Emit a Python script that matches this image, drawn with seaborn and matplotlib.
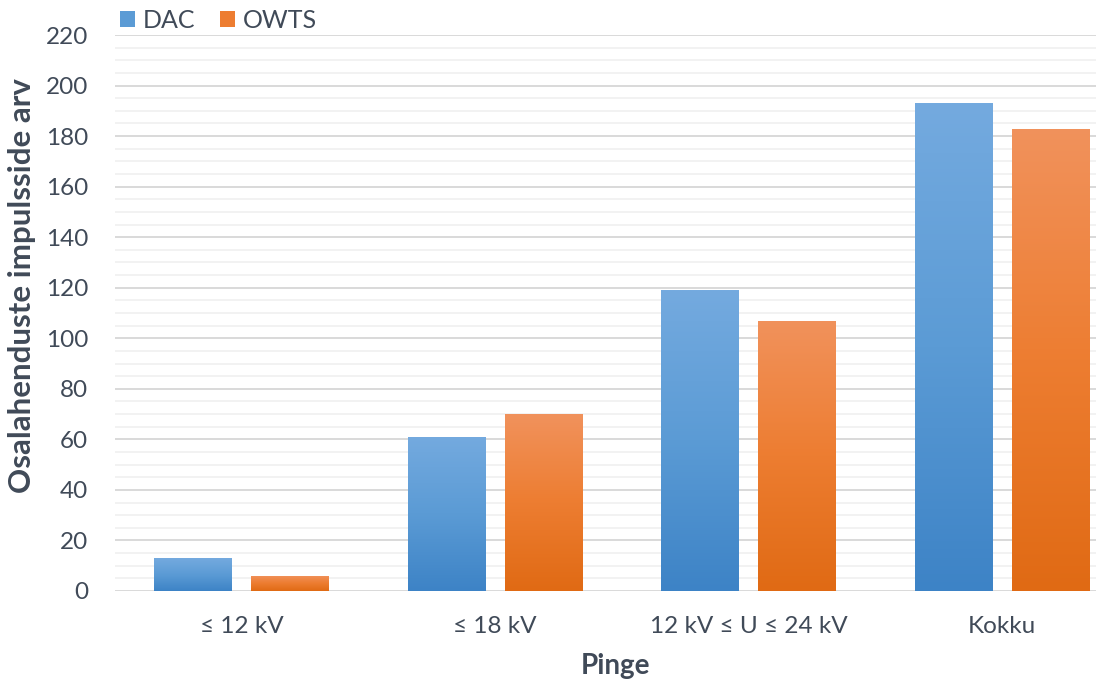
import numpy as np
import pandas as pd
import matplotlib
matplotlib.use("Agg")
import matplotlib.pyplot as plt
import seaborn as sns
from matplotlib.colors import LinearSegmentedColormap
from matplotlib.patches import Patch
from matplotlib.ticker import MultipleLocator

# Data
categories = ["≤ 12 kV", "≤ 18 kV", "12 kV ≤ U ≤ 24 kV", "Kokku"]
series = ["DAC", "OWTS"]
dac = [13, 61, 119, 193]
owts = [6, 70, 107, 183]

df = pd.DataFrame({
    "Pinge": categories * 2,
    "arv": dac + owts,
    "Seade": [series[0]] * len(dac) + [series[1]] * len(owts),
})

base_colors = {"DAC": "#5b9bd5", "OWTS": "#ed7d31"}
gradients = {
    "DAC": ["#3d83c6", "#5b9bd5", "#74aadf"],
    "OWTS": ["#e06a14", "#ed7d31", "#f1925c"],
}
text_color = "#404a58"

sns.set_theme(style="white")
plt.rcParams["font.family"] = ["Lato", "DejaVu Sans"]

fig = plt.figure(figsize=(10.96, 6.81), dpi=100)
ax = fig.add_axes([0.1047, 0.1322, 0.925, 0.8164])

sns.barplot(data=df, x="Pinge", y="arv", hue="Seade", hue_order=series,
            palette=base_colors, width=0.765, gap=0.2, ax=ax, legend=False,
            saturation=1, errorbar=None)

# Vertical gradient fill for every bar, clipped to the bar shape
grad = np.linspace(0, 1, 256).reshape(-1, 1)
for name, container in zip(series, ax.containers):
    cmap = LinearSegmentedColormap.from_list(name, gradients[name])
    for bar in container:
        x0, y0 = bar.get_x(), bar.get_y()
        w, h = bar.get_width(), bar.get_height()
        im = ax.imshow(grad, extent=[x0, x0 + w, y0, y0 + h], origin="lower",
                       aspect="auto", cmap=cmap, zorder=bar.get_zorder())
        im.set_clip_path(bar)
        bar.set_facecolor("none")
        bar.set_edgecolor("none")

ax.set_xlim(-0.5, 3.5)
ax.set_ylim(0, 220)
ax.yaxis.set_major_locator(MultipleLocator(20))
ax.yaxis.set_minor_locator(MultipleLocator(5))
ax.grid(which="major", axis="y", color="#d9d9d9", lw=1.4)
ax.grid(which="minor", axis="y", color="#f0f0f0", lw=1.2)
ax.grid(which="both", axis="x", visible=False)
ax.set_axisbelow(True)
for s in ax.spines.values():
    s.set_visible(False)

ax.tick_params(axis="both", which="both", length=0, labelsize=17.5,
               labelcolor=text_color)
ax.tick_params(axis="x", pad=18)
ax.tick_params(axis="y", pad=19)

ax.set_xlabel("Pinge", fontsize=20, fontweight="bold", color=text_color)
ax.set_ylabel("Osalahenduste impulsside arv", fontsize=22.5, fontweight="bold",
              color=text_color)
ax.xaxis.set_label_coords(0.494, -0.112)
ax.yaxis.set_label_coords(-0.0775, 0.549)

handles = [Patch(facecolor=base_colors[s], edgecolor="none", label=s) for s in series]
fig.legend(handles=handles, loc="upper left", bbox_to_anchor=(0.1095, 0.987),
           ncol=2, frameon=False, fontsize=18, handlelength=0.6,
           handleheight=0.6, handletextpad=0.3, columnspacing=1.0,
           labelcolor=text_color, borderaxespad=0, borderpad=0)

fig.savefig("out.png", dpi=100, facecolor="white")
